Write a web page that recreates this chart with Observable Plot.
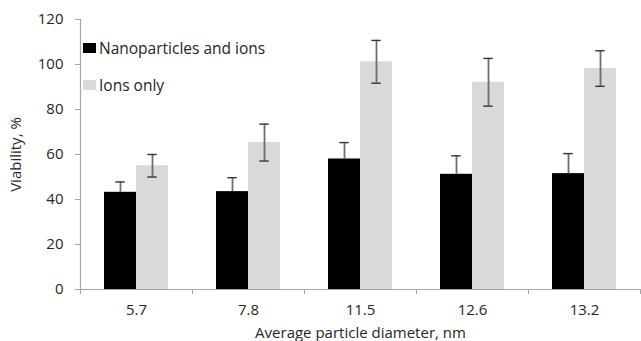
<!DOCTYPE html>
<html>
<head>
<meta charset="utf-8">
<script src="https://cdn.jsdelivr.net/npm/d3@7"></script>
<script src="https://cdn.jsdelivr.net/npm/@observablehq/plot@0.6"></script>
<style>
  html, body { margin: 0; padding: 0; background: #fff; }
  #wrap { position: relative; width: 641px; height: 341px; font-family: "Open Sans", sans-serif; }
  .legend { position: absolute; left: 83px; font-size: 15.5px; color: #262626; display: flex; align-items: center; white-space: nowrap; }
  .legend .sw { width: 13px; height: 10px; margin-right: 3px; }
</style>
</head>
<body>
<div id="wrap"></div>
<script>
const categories = ["5.7", "7.8", "11.5", "12.6", "13.2"];
const seriesNames = ["Nanoparticles and ions", "Ions only"];
const nanoValues = [43.2, 43.5, 58.0, 51.2, 51.5];
const nanoErrors = [4.6, 6.2, 7.3, 8.2, 8.9];
const ionValues = [55.0, 65.3, 101.2, 92.1, 98.2];
const ionErrors = [5.0, 8.2, 9.5, 10.6, 7.9];
const yTicks = [0, 20, 40, 60, 80, 100, 120];
const colors = ["#000000", "#d9d9d9"];

// layout fractions within each category band
const barW = 32 / 112;
const capHalf = 0.042;

const rows = [];
categories.forEach((c, i) => {
  rows.push({cat: c, i, s: 0, v: nanoValues[i], e: nanoErrors[i]});
  rows.push({cat: c, i, s: 1, v: ionValues[i], e: ionErrors[i]});
});
rows.forEach(d => {
  d.x1 = d.i + 0.5 + (d.s === 0 ? -barW : 0);
  d.x2 = d.x1 + barW;
  d.xc = (d.x1 + d.x2) / 2;
});
const ionRows = rows.filter(d => d.s === 1);

const axisColor = "#a6a6a6";
const textColor = "#262626";

const chart = Plot.plot({
  width: 641,
  height: 341,
  marginLeft: 80,
  marginRight: 1,
  marginTop: 19,
  marginBottom: 52,
  style: {fontFamily: "Open Sans, sans-serif", fontSize: "15px", color: textColor, background: "white"},
  x: {type: "linear", domain: [0, categories.length]},
  y: {domain: [0, 120]},
  marks: [
    Plot.rectY(rows, {x1: "x1", x2: "x2", y: "v", fill: d => colors[d.s]}),
    // lower half of the black bars' error bars is hidden by the bar itself
    Plot.ruleX(rows, {x: "xc", y1: d => d.s === 0 ? d.v : d.v - d.e, y2: d => d.v + d.e, stroke: "#6e6e6e", strokeWidth: 1.8}),
    Plot.ruleY(rows, {y: d => d.v + d.e, x1: d => d.xc - capHalf, x2: d => d.xc + capHalf, stroke: "#333", strokeWidth: 1.4}),
    Plot.ruleY(ionRows, {y: d => d.v - d.e, x1: d => d.xc - capHalf, x2: d => d.xc + capHalf, stroke: "#333", strokeWidth: 1.4}),
    Plot.ruleX([0], {stroke: axisColor, strokeWidth: 1.2}),
    Plot.ruleY([0], {stroke: axisColor, strokeWidth: 1.2}),
    Plot.axisY({ticks: yTicks, tickSize: 5, tickPadding: 12, stroke: axisColor, label: "Viability, %", labelAnchor: "center", labelArrow: "none", labelOffset: 70, fill: textColor}),
    Plot.axisX({ticks: d3.range(0, categories.length + 1), tickSize: 5, tickFormat: () => "", stroke: axisColor, label: null}),
    Plot.axisX({ticks: categories.map((c, i) => i + 0.5), tickSize: 0, tickPadding: 15, tickFormat: d => categories[Math.floor(d)], label: "Average particle diameter, nm", labelAnchor: "center", labelArrow: "none", labelOffset: 48, fill: textColor})
  ]
});

const wrap = document.getElementById("wrap");
wrap.appendChild(chart);
const tops = [37, 74];
seriesNames.forEach((name, k) => {
  const div = document.createElement("div");
  div.className = "legend";
  div.style.top = tops[k] + "px";
  div.innerHTML = `<span class="sw" style="background:${colors[k]}"></span><span>${name}</span>`;
  wrap.appendChild(div);
});
</script>
</body>
</html>
